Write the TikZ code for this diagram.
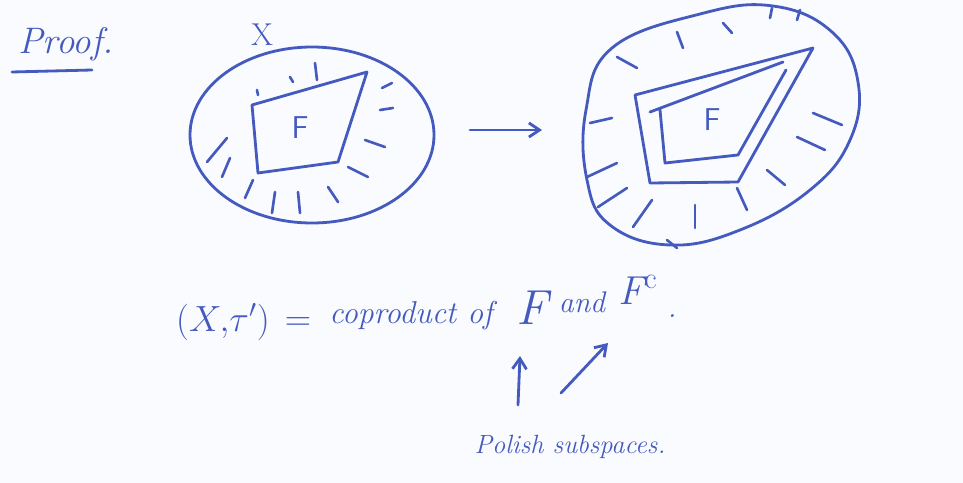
\documentclass[tikz,border=0pt]{standalone}
\usetikzlibrary{arrows.meta,shapes.geometric}
\definecolor{pen}{RGB}{68,90,190}
\definecolor{paper}{RGB}{250,251,254}
\begin{document}
\begin{tikzpicture}[x=0.02cm,y=-0.02cm,
  ink/.style={draw=pen,line width=1.6pt,line cap=round,line join=round},
  hatch/.style={draw=pen,line width=1.5pt,line cap=round},
  hand/.style={text=pen,font=\fontsize{17}{20}\selectfont\itshape,inner sep=0pt},
  arr/.style={ink,-{Straight Barb[length=6pt,width=8pt]}}]
\fill[paper] (0,0) rectangle (963,483);
\useasboundingbox (0,0) rectangle (963,483);
% Proof.
\node[hand,font=\fontsize{21}{22}\selectfont\itshape] (proof) at (66,44) {Proof.};
\draw[ink] (12,72) -- (92,70);
% left picture
\node[hand,font=\fontsize{18}{20}\selectfont] (xlab) at (262,35) {X};
\draw[ink] (312,135) ellipse [x radius=122,y radius=88];
\draw[ink] (252,105) -- (367,72) -- (338,162) -- (258,173) -- cycle;
\node[hand,font=\fontsize{18}{20}\selectfont\sffamily] (F1) at (300,128) {F};
\foreach \a/\b in {{(290,77)/(293,82)},{(315,63)/(317,80)},{(382,88)/(392,83)},{(380,110)/(393,108)},
  {(365,140)/(385,147)},{(348,167)/(368,177)},{(328,187)/(338,202)},{(298,192)/(300,213)},
  {(275,192)/(272,213)},{(253,180)/(245,198)},{(230,158)/(222,177)},{(227,138)/(207,162)},{(257,90)/(258,95)}}
  \draw[hatch] \a -- \b;
% arrow between
\coordinate (m1) at (470,130);
\coordinate (m2) at (542,130);
\draw[arr] (m1) -- (m2);
% right picture
\draw[ink] plot[smooth cycle,tension=0.7] coordinates {(612,48) (700,14) (773,6) (832,32) (858,82) (850,140) (810,190) (740,230) (670,245) (610,225) (587,180) (586,110)};
\draw[ink] (635,95) -- (813,48) -- (738,182) -- (650,183) -- cycle;
\draw[ink] (650,112) -- (783,62) (786,70) -- (738,155) -- (665,163) -- (660,110);
\node[hand,font=\fontsize{18}{20}\selectfont\sffamily] (F2) at (712,120) {F};
\foreach \a/\b in {{(677,32)/(683,48)},{(723,23)/(732,33)},{(617,57)/(637,68)},{(590,123)/(612,118)},
  {(587,177)/(617,163)},{(598,207)/(627,188)},{(633,227)/(652,200)},{(695,205)/(695,228)},
  {(737,188)/(747,210)},{(767,170)/(785,185)},{(797,137)/(825,150)},{(813,113)/(842,125)},
  {(667,240)/(677,248)},{(772,8)/(770,18)},{(800,10)/(797,20)}}
  \draw[hatch] \a -- \b;
% bottom text
\node[hand,font=\fontsize{22}{26}\selectfont] (xt) at (223,322) {$(X,\!\tau')$};
\node[hand,font=\fontsize{22}{24}\selectfont] (eq) at (298,324) {$=$};
\node[hand,font=\fontsize{18}{20}\selectfont\itshape] (cop) at (411,316) {coproduct of};
\node[hand,font=\fontsize{28}{30}\selectfont\itshape] (Fb) at (532,308) {F};
\node[hand,font=\fontsize{17}{20}\selectfont\itshape] (and) at (582,302) {and};
\node[hand,font=\fontsize{23}{24}\selectfont\itshape] (Fc) at (638,290) {F$^{\mathrm{c}}$};
\node[hand] (dot) at (672,316) {.};
\node[hand,font=\fontsize{15}{18}\selectfont\itshape] (pol) at (570,447) {Polish subspaces.};
\coordinate (p1) at (518,405);
\coordinate (p2) at (520,356);
\coordinate (q1) at (561,393);
\coordinate (q2) at (608,343);
\draw[arr] (p1) -- (p2);
\draw[arr] (q1) -- (q2);
\end{tikzpicture}
\end{document}
